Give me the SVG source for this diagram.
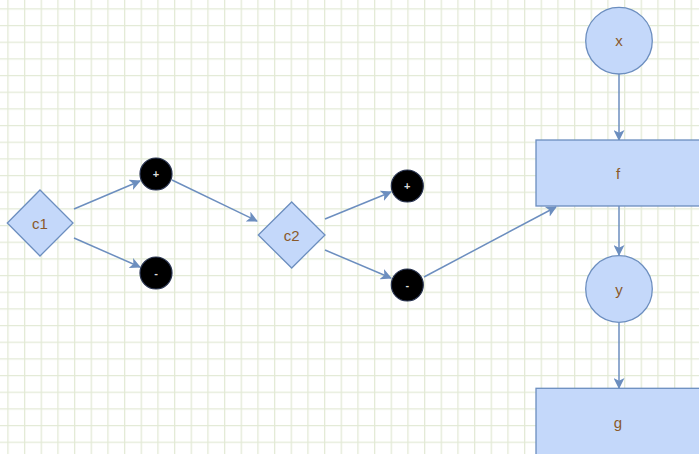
<svg xmlns="http://www.w3.org/2000/svg" width="699" height="454" viewBox="0 0 699 454">
<defs>
<pattern id="grid" x="7.3" y="8.3" width="16.667" height="16.667" patternUnits="userSpaceOnUse">
<path d="M0 0 H16.667 M0 0 V16.667" fill="none" stroke="#e3ead6" stroke-width="2.6"/>
</pattern>
<marker id="arr" viewBox="0 0 11 11" refX="10" refY="5.5" markerWidth="11" markerHeight="11" markerUnits="userSpaceOnUse" orient="auto">
<path d="M0 0 L11 5.5 L0 11 L2.8 5.5 Z" fill="#6c8ebf"/>
</marker>
</defs>
<style>
.node{fill:#c4d8fa;stroke:#6c8ebf;stroke-width:1.3}
.lbl{font-family:"Liberation Sans",Arial,sans-serif;font-size:15px;fill:#8a5a2a;text-anchor:middle;dominant-baseline:central}
.dot{fill:#000;stroke:#27324f;stroke-width:1.2}
.dl{font-family:"Liberation Sans",Arial,sans-serif;font-size:11px;fill:#ddd;text-anchor:middle;dominant-baseline:central;font-weight:bold}
.edge{fill:none;stroke:#6c8ebf;stroke-width:1.5;marker-end:url(#arr)}
</style>
<rect width="699" height="454" fill="#fff"/>
<rect width="699" height="454" fill="url(#grid)"/>
<g id="connectors">
<line class="edge" x1="74" y1="209" x2="140" y2="181"/>
<line class="edge" x1="74" y1="238" x2="140" y2="267"/>
<line class="edge" x1="172" y1="180" x2="257" y2="221"/>
<line class="edge" x1="325" y1="219" x2="391" y2="192"/>
<line class="edge" x1="325" y1="250" x2="391" y2="278"/>
<line class="edge" x1="424" y1="277" x2="556" y2="207"/>
<line class="edge" x1="619" y1="74" x2="619" y2="140"/>
<line class="edge" x1="619" y1="206" x2="619" y2="255"/>
<line class="edge" x1="619" y1="323" x2="619" y2="388"/>
</g>
<g id="c1">
<path class="node" d="M40 190 L73 223 L40 256 L7.3 223 Z"/>
<text class="lbl" x="40" y="223">c1</text>
</g>
<g id="plus1">
<circle class="dot" cx="156" cy="174" r="16"/>
<text class="dl" x="156" y="174">+</text>
</g>
<g id="minus1">
<circle class="dot" cx="156" cy="273" r="16"/>
<text class="dl" x="156" y="273">-</text>
</g>
<g id="c2">
<path class="node" d="M291.7 202 L325 235 L291.7 268 L258.3 235 Z"/>
<text class="lbl" x="291.7" y="235">c2</text>
</g>
<g id="plus2">
<circle class="dot" cx="407.3" cy="186" r="16"/>
<text class="dl" x="407.3" y="186">+</text>
</g>
<g id="minus2">
<circle class="dot" cx="407.3" cy="285" r="16"/>
<text class="dl" x="407.3" y="285">-</text>
</g>
<g id="x">
<circle class="node" cx="619" cy="40.7" r="33.3"/>
<text class="lbl" x="619" y="40.7">x</text>
</g>
<g id="f">
<rect class="node" x="536" y="140" width="166" height="66"/>
<text class="lbl" x="618" y="173">f</text>
</g>
<g id="y">
<circle class="node" cx="619" cy="289" r="33.3"/>
<text class="lbl" x="619" y="289">y</text>
</g>
<g id="g">
<rect class="node" x="536" y="388.3" width="166" height="70"/>
<text class="lbl" x="618" y="422">g</text>
</g>
</svg>
